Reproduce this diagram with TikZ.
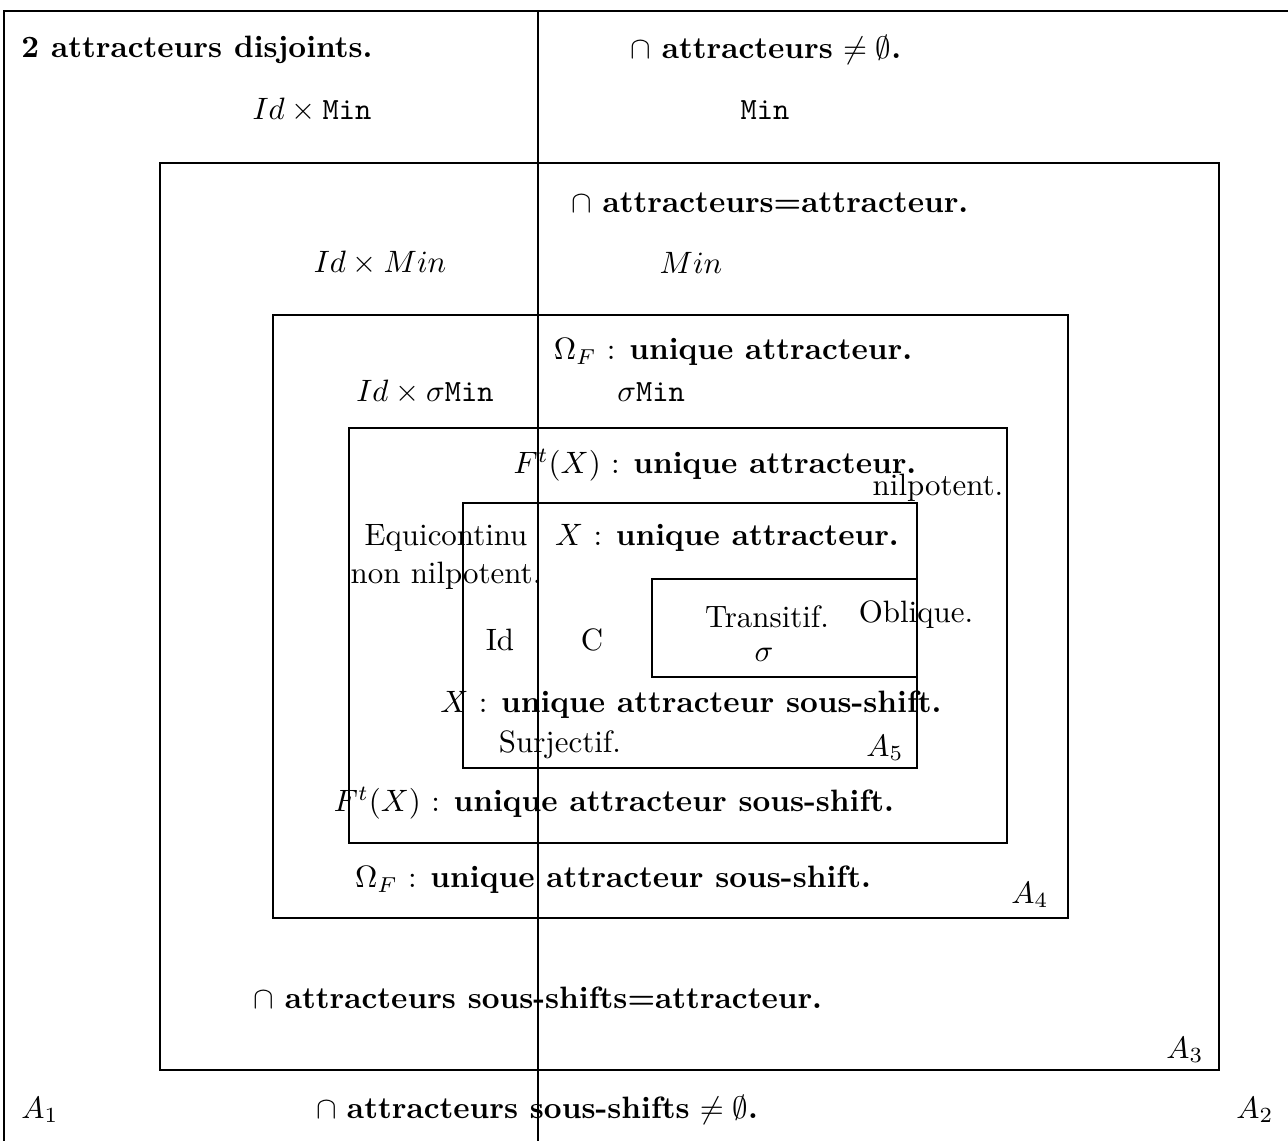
\documentclass[tikz,border=0pt]{standalone}
\usepackage{amssymb}
\begin{document}
\begin{tikzpicture}[x=0.3236pt,y=-0.3236pt,
  lbl/.style={inner sep=0pt,anchor=center},
  boxline/.style={draw=black,line width=0.4pt}]
\useasboundingbox (0,0) rectangle (1288,1140);
\clip (0,0) rectangle (1288,1140);
% boxes
\draw[boxline] (4,11) rectangle (1310,1160);
\draw[boxline] (160,163) rectangle (1219,1070);
\draw[boxline] (273,315) rectangle (1068,918);
\draw[boxline] (349,428) rectangle (1007,843);
\draw[boxline] (463,503) rectangle (917,768);
\draw[boxline] (652,579) rectangle (917,677);
\coordinate (vtop) at (538,11);
\coordinate (vbot) at (538,1160);
\draw[boxline] (vtop) -- (vbot);
% labels
\node[lbl] (t1) at (197,50) {\textbf{2 attracteurs disjoints.}};
\node[lbl] (t2) at (766,50) {$\cap$ \textbf{attracteurs} $\neq\emptyset$\textbf{.}};
\node[lbl] (t3) at (312,110) {$Id\times\mbox{\texttt{Min}}$};
\node[lbl] (t4) at (765,110) {\texttt{Min}};
\node[lbl] (t5) at (770,203) {$\cap$ \textbf{attracteurs=attracteur.}};
\node[lbl] (t6) at (380,263) {$Id\times Min$};
\node[lbl] (t7) at (691,263) {$Min$};
\node[lbl] (t8) at (733,352) {$\Omega_F$ : \textbf{unique attracteur.}};
\node[lbl] (t9) at (425,392) {$Id\times\sigma$\texttt{Min}};
\node[lbl] (t10) at (651,392) {$\sigma$\texttt{Min}};
\node[lbl] (t11) at (715,465) {$F^t(X)$ : \textbf{unique attracteur.}};
\node[lbl] (t12) at (938,488) {nilpotent.};
\node[lbl,align=center] (t13) at (446,557) {Equicontinu\\non nilpotent.};
\node[lbl] (t14) at (727,538) {$X$ : \textbf{unique attracteur.}};
\node[lbl] (t15) at (767,617) {Transitif.};
\node[lbl] (t16) at (916,615) {Oblique.};
\node[lbl] (t17) at (764,655) {$\sigma$};
\node[lbl] (t18) at (500,640) {Id};
\node[lbl] (t19) at (592,640) {C};
\node[lbl] (t20) at (691,705) {$X$ : \textbf{unique attracteur sous-shift.}};
\node[lbl] (t21) at (560,745) {Surjectif.};
\node[lbl] (t22) at (885,748) {$A_5$};
\node[lbl] (t23) at (614,803) {$F^t(X)$ : \textbf{unique attracteur sous-shift.}};
\node[lbl] (t24) at (613,880) {$\Omega_F$ : \textbf{unique attracteur sous-shift.}};
\node[lbl] (t25) at (1030,895) {$A_4$};
\node[lbl] (t26) at (538,998) {$\cap$ \textbf{attracteurs sous-shifts=attracteur.}};
\node[lbl] (t27) at (1185,1050) {$A_3$};
\node[lbl] (t28) at (40,1110) {$A_1$};
\node[lbl] (t29) at (537,1110) {$\cap$ \textbf{attracteurs sous-shifts} $\neq\emptyset$\textbf{.}};
\node[lbl] (t30) at (1255,1110) {$A_2$};
\end{tikzpicture}
\end{document}
